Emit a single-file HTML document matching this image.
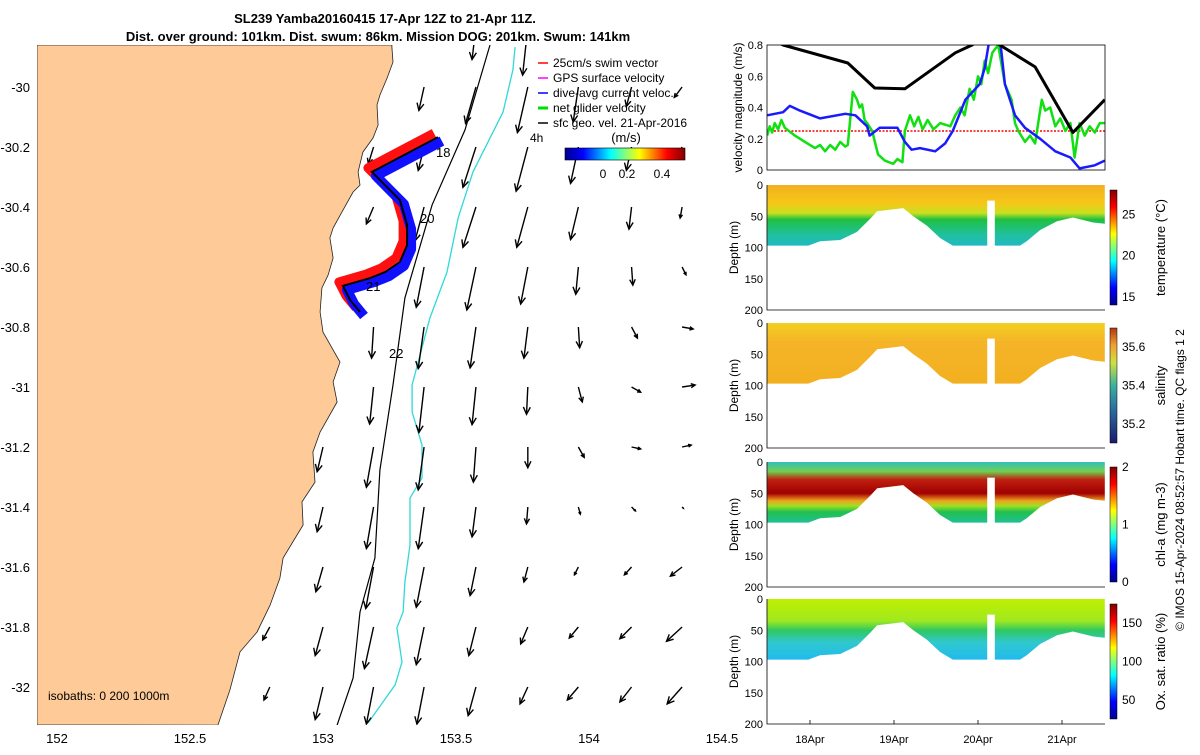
<!DOCTYPE html>
<html><head><meta charset="utf-8">
<style>
body{margin:0;background:#fff;font-family:"Liberation Sans",sans-serif;}
svg text{font-family:"Liberation Sans",sans-serif;}
</style></head>
<body>
<svg id="fig" width="1200" height="750" viewBox="0 0 1200 750">
<defs>
<linearGradient id="jetH" x1="0" x2="1" y1="0" y2="0">
<stop offset="0" stop-color="#00008f"/><stop offset="0.15" stop-color="#0000ff"/><stop offset="0.38" stop-color="#00ffff"/><stop offset="0.62" stop-color="#ffff00"/><stop offset="0.85" stop-color="#ff0000"/><stop offset="1" stop-color="#800000"/></linearGradient>
<linearGradient id="jetV" x1="0" x2="0" y1="1" y2="0">
<stop offset="0" stop-color="#00008f"/><stop offset="0.15" stop-color="#0000ff"/><stop offset="0.38" stop-color="#00ffff"/><stop offset="0.62" stop-color="#ffff00"/><stop offset="0.85" stop-color="#ff0000"/><stop offset="1" stop-color="#800000"/></linearGradient>
<linearGradient id="halV" x1="0" x2="0" y1="1" y2="0">
<stop offset="0" stop-color="#1a1a6e"/><stop offset="0.3" stop-color="#2c6fa0"/><stop offset="0.5" stop-color="#3cb0a0"/><stop offset="0.7" stop-color="#d0e040"/><stop offset="0.85" stop-color="#f0a030"/><stop offset="1" stop-color="#b03a10"/></linearGradient>
<clipPath id="mclip"><rect x="37" y="45" width="683" height="680"/></clipPath>
<clipPath id="vclip"><rect x="767" y="45" width="338" height="125"/></clipPath>
</defs>
<g id="map"></g>
<g id="right"></g>
</svg>
<script>
const NS="http://www.w3.org/2000/svg";
function mk(tag,attrs,parent,txt){const e=document.createElementNS(NS,tag);for(const k in attrs)e.setAttribute(k,attrs[k]);if(txt!==undefined)e.textContent=txt;parent.appendChild(e);return e;}
// ---------- MAP DATA ----------
const lonTicks=[152,152.5,153,153.5,154,154.5];
const latTicks=[-30,-30.2,-30.4,-30.6,-30.8,-31,-31.2,-31.4,-31.6,-31.8,-32];
const coastLon=[153.259,153.259,153.263,153.241,153.214,153.203,153.207,153.188,153.15,153.132,153.139,153.113,153.071,153.038,153.026,153.038,153.019,152.996,152.989,153.0,153.064,153.038,153.053,152.989,152.962,152.97,152.921,152.925,152.85,152.838,152.801,152.752,152.688,152.65,152.605];
const coastLat=[-29.86,-29.867,-29.917,-29.97,-30.027,-30.06,-30.127,-30.17,-30.217,-30.283,-30.327,-30.35,-30.417,-30.47,-30.503,-30.57,-30.627,-30.67,-30.75,-30.817,-30.917,-30.983,-31.05,-31.15,-31.217,-31.317,-31.383,-31.46,-31.57,-31.637,-31.727,-31.817,-31.883,-32.01,-32.127];
const trackLon=[153.432,153.184,153.233,153.289,153.316,153.316,153.289,153.233,153.177,153.075,153.102,153.139];
const trackLat=[-30.167,-30.283,-30.327,-30.377,-30.46,-30.527,-30.583,-30.617,-30.637,-30.663,-30.71,-30.75];
const iso200Lon=[153.628,153.534,153.41,153.308,153.263,153.214,153.195,153.139,153.113,153.053];
const iso200Lat=[-29.86,-30.143,-30.393,-30.703,-30.993,-31.277,-31.57,-31.75,-31.97,-32.127];
const iso1000Lon=[153.722,153.714,153.677,153.564,153.508,153.466,153.402,153.335,153.335,153.372,153.372,153.327,153.327,153.308,153.301,153.278,153.297,153.271,153.169];
const iso1000Lat=[-29.867,-29.943,-30.083,-30.283,-30.437,-30.617,-30.77,-30.993,-31.083,-31.193,-31.303,-31.37,-31.527,-31.65,-31.75,-31.803,-31.917,-31.993,-32.12];
const vecLon=[152.8,153.0,153.19,153.38,153.575,153.77,153.96,154.16,154.35];
const vecLat=[-29.8,-30,-30.2,-30.4,-30.6,-30.8,-31,-31.2,-31.4,-31.6,-31.8,-32];
const vecU=[
[0,0,0,0,-0.03,-0.04,0,0,0],
[0,0,0,-0.04,-0.08,-0.08,-0.04,-0.04,-0.06],
[0,0,-0.04,-0.045,-0.1,-0.09,-0.06,-0.04,-0.04],
[0,0,-0.055,-0.07,-0.1,-0.085,-0.06,-0.02,-0.015],
[0,0,0,-0.06,-0.07,-0.055,-0.02,0.01,0.03],
[0,0,-0.015,-0.045,-0.045,-0.03,0.01,0.045,0.085],
[0,0,-0.03,-0.04,-0.03,-0.01,0.03,0.07,0.1],
[0,-0.045,-0.055,-0.045,-0.02,0,0.045,0.07,0.07],
[0,-0.045,-0.055,-0.045,-0.03,-0.01,0.015,0.03,0.01],
[0,-0.055,-0.06,-0.06,-0.045,-0.03,-0.03,-0.055,-0.09],
[-0.055,-0.06,-0.07,-0.06,-0.055,-0.055,-0.07,-0.09,-0.12],
[-0.045,-0.06,-0.055,-0.055,-0.06,-0.06,-0.085,-0.09,-0.115]];
const vecV=[
[0,0,0,0,-0.25,-0.37,0,0,0],
[0,0,0,-0.18,-0.28,-0.35,-0.27,-0.15,-0.08],
[0,0,-0.13,-0.18,-0.31,-0.34,-0.28,-0.18,-0.08],
[0,0,-0.13,-0.26,-0.31,-0.31,-0.25,-0.17,-0.085],
[0,0,0,-0.31,-0.33,-0.285,-0.21,-0.14,-0.06],
[0,0,-0.24,-0.32,-0.315,-0.24,-0.16,-0.085,-0.015],
[0,0,-0.285,-0.35,-0.29,-0.21,-0.115,-0.04,0.015],
[0,-0.19,-0.31,-0.33,-0.27,-0.16,-0.08,-0.015,0.015],
[0,-0.19,-0.32,-0.32,-0.23,-0.13,-0.055,-0.03,-0.01],
[0,-0.19,-0.32,-0.31,-0.22,-0.115,-0.06,-0.06,-0.07],
[-0.1,-0.22,-0.32,-0.29,-0.22,-0.13,-0.085,-0.09,-0.11],
[-0.1,-0.25,-0.285,-0.285,-0.22,-0.13,-0.1,-0.115,-0.13]];
// ---------- RIGHT DATA ----------
const sfcDays=[17.5,17.68,18.45,18.77,19.13,19.73,19.93,20.08,20.26,20.68,21.13,21.51];
const sfcSpeed=[0.85,0.8,0.685,0.525,0.52,0.75,0.8,0.86,0.8,0.66,0.24,0.45];
const diveDays=[17.49,17.68,17.76,17.88,18.12,18.42,18.54,18.68,18.71,18.83,19.04,19.13,19.21,19.31,19.49,19.61,19.7,19.85,20.02,20.08,20.14,20.26,20.32,20.44,20.56,20.74,20.92,21.1,21.21,21.39,21.51];
const diveAvg=[0.35,0.37,0.41,0.38,0.33,0.36,0.35,0.28,0.22,0.27,0.27,0.18,0.13,0.14,0.12,0.17,0.25,0.45,0.55,0.65,0.85,0.85,0.55,0.35,0.27,0.2,0.12,0.08,0.01,0.03,0.06];
const netDays=[17.49,17.52,17.55,17.58,17.62,17.66,17.7,17.82,17.94,18.06,18.12,18.18,18.24,18.3,18.36,18.42,18.45,18.51,18.56,18.59,18.62,18.65,18.68,18.74,18.81,18.89,18.99,19.04,19.1,19.13,19.19,19.24,19.29,19.34,19.4,19.47,19.55,19.67,19.73,19.79,19.84,19.9,19.95,20.0,20.04,20.08,20.12,20.17,20.24,20.32,20.4,20.44,20.48,20.56,20.62,20.68,20.76,20.8,20.86,20.92,20.98,21.04,21.1,21.15,21.21,21.27,21.33,21.39,21.45,21.51];
const netGlider=[0.22,0.28,0.24,0.3,0.26,0.32,0.27,0.22,0.18,0.14,0.16,0.12,0.16,0.13,0.18,0.15,0.16,0.5,0.45,0.4,0.42,0.32,0.3,0.25,0.1,0.06,0.04,0.07,0.05,0.25,0.35,0.28,0.34,0.26,0.32,0.26,0.3,0.28,0.35,0.4,0.35,0.52,0.45,0.6,0.55,0.7,0.62,0.75,0.8,0.55,0.45,0.3,0.25,0.18,0.22,0.17,0.45,0.38,0.4,0.28,0.33,0.25,0.3,0.08,0.3,0.22,0.28,0.24,0.3,0.3];
const swimRef=0.25;
const profDays=[17.49,17.98,18.12,18.36,18.56,18.71,18.8,19.11,19.23,19.39,19.55,19.7,20.11,20.2,20.5,20.58,20.74,20.94,21.13,21.37,21.51];
const bottomDepth=[97,97,90,88,75,55,42,37,50,65,85,97,97,97,97,90,72,58,52,60,62];
const gapStart=20.11, gapEnd=20.2, gapTop=25;
const timeTicks=[18,19,20,21];
const timeLabels=["18Apr","19Apr","20Apr","21Apr"];
const velTicks=[0,0.2,0.4,0.6,0.8];
const velLabels=["0","0.2","0.4","0.6","0.8"];
const depthTicks=[0,50,100,150,200];
const panels=[
 {name:"temperature",top:185,stops:[[0,"#f3b020"],[0.3,"#f5c818"],[0.45,"#c8e020"],[0.55,"#20c040"],[0.8,"#20c0a0"],[1,"#20b8c8"]],cb:"url(#jetV)",cbLabel:"temperature (°C)",ticks:[15,20,25],min:14,max:28},
 {name:"salinity",top:323,stops:[[0,"#f2d020"],[0.3,"#f5b428"],[1,"#f2b020"]],cb:"url(#halV)",cbLabel:"salinity",ticks:[35.2,35.4,35.6],min:35.1,max:35.7},
 {name:"chl-a",top:462,stops:[[0,"#30c0c0"],[0.15,"#70d050"],[0.28,"#c02010"],[0.5,"#a00000"],[0.62,"#f0a020"],[0.7,"#a0e020"],[0.8,"#20c050"],[1,"#20c0a0"]],cb:"url(#jetV)",cbLabel:"chl-a (mg m-3)",ticks:[0,1,2],min:0,max:2},
 {name:"oxygen",top:599,stops:[[0,"#c0f000"],[0.35,"#a0e820"],[0.5,"#30c860"],[0.7,"#30c8d0"],[1,"#20b8f0"]],cb:"url(#jetV)",cbLabel:"Ox. sat. ratio (%)",ticks:[50,100,150],min:25,max:175}];

// ---------- MAP ----------
const map=document.getElementById('map');
const MX0=37,MX1=720,MY0=45,MY1=725;
const mx=lon=>323+(lon-153)*266;
const my=lat=>87+(-30-lat)*300;
const mc=mk('g',{'clip-path':'url(#mclip)'},map);
let land="M"+MX0+","+MY0;
coastLon.forEach((l,i)=>{land+=" L"+mx(l).toFixed(1)+","+my(coastLat[i]).toFixed(1);});
land+=" L"+MX0+","+MY1+" Z";
const landEl=mk('path',{d:land,fill:'#fdca98',stroke:'#222','stroke-width':0.8},mc);

function line(lons,lats,attrs,name){let d="";lons.forEach((l,i)=>{d+=(i?" L":"M")+mx(l).toFixed(1)+","+my(lats[i]).toFixed(1);});const e=mk('path',Object.assign({d:d,fill:'none'},attrs),mc);return e;}
line(iso200Lon,iso200Lat,{stroke:'#000','stroke-width':1.2},'isobath-200m');
line(iso1000Lon,iso1000Lat,{stroke:'#30d8d8','stroke-width':1.3},'isobath-1000m');
const vscale=130;
vecLat.forEach((la,r)=>{vecLon.forEach((lo,c)=>{
 const u=vecU[r][c],v=vecV[r][c];if(u===0&&v===0)return;
 const x0=mx(lo),y0=my(la),x1=x0+u*vscale,y1=y0-v*vscale;
 const g=mk('g',{stroke:'#000','stroke-width':1.4,fill:'none'},mc);
 
 
 mk('line',{x1:x0,y1:y0,x2:x1,y2:y1},g);
 const a=Math.atan2(y1-y0,x1-x0),L=Math.hypot(x1-x0,y1-y0),h=Math.min(8,L*0.35);
 mk('path',{d:`M${x1-h*Math.cos(a-0.45)},${y1-h*Math.sin(a-0.45)} L${x1},${y1} L${x1-h*Math.cos(a+0.45)},${y1-h*Math.sin(a+0.45)}`},g);
});});
line(trackLon,trackLat,{stroke:'#ff1010','stroke-width':9,'stroke-linejoin':'round',transform:'translate(-4,-4)'},'swim-vector-track');
line(trackLon,trackLat,{stroke:'#1010ff','stroke-width':10,'stroke-linejoin':'round',transform:'translate(4,4)'},'dive-avg-current-track');
line(trackLon,trackLat,{stroke:'#000','stroke-width':2},'glider-track');
[[436,157,"18"],[420,223,"20"],[366,291,"21"],[389,358,"22"]].forEach(t=>{const e=mk('text',{x:t[0],y:t[1],'font-size':13},map,t[2]);});
lonTicks.forEach(l=>{const e=mk('text',{x:mx(l),y:743,'font-size':13,'text-anchor':'middle'},map,String(l));});
latTicks.forEach(l=>{const e=mk('text',{x:30,y:my(l)+5,'font-size':13,'text-anchor':'end'},map,String(l));});
let t=mk('text',{x:385,y:23,'font-size':13,'font-weight':'bold','text-anchor':'middle'},map,"SL239 Yamba20160415 17-Apr 12Z to 21-Apr 11Z.");
t=mk('text',{x:378,y:41,'font-size':13,'font-weight':'bold','text-anchor':'middle'},map,"Dist. over ground: 101km. Dist. swum: 86km. Mission DOG: 201km. Swum: 141km");
const leg=[["#ff0000","25cm/s swim vector"],["#ff00ff","GPS surface velocity"],["#0000ff","dive-avg current veloc."],["#00e000","net glider velocity"],["#000","sfc geo. vel. 21-Apr-2016"]];
leg.forEach((L,i)=>{const g=mk('g',{},map);const y=63+i*15;mk('line',{x1:538,y1:y,x2:548,y2:y,stroke:L[0],'stroke-width':L[0]=="#00e000"?3:1.5},g);mk('text',{x:553,y:y+4,'font-size':12},g,L[1]);});
t=mk('text',{x:530,y:142,'font-size':12},map,"4h");
t=mk('text',{x:626,y:142,'font-size':13,'text-anchor':'middle'},map,"(m/s)");
const hcb=mk('rect',{x:565,y:148,width:120,height:12,fill:'url(#jetH)',stroke:'#000','stroke-width':0.6},map);
[["0",603],["0.2",627],["0.4",662]].forEach(p=>{const e=mk('text',{x:p[1],y:178,'font-size':12,'text-anchor':'middle'},map,p[0]);});
t=mk('text',{x:48,y:700,'font-size':12},map,"isobaths: 0   200  1000m");

// ---------- RIGHT PANELS ----------
const R=document.getElementById('right');
const TX0=767,TX1=1105;
const tx=d=>810+(d-18)*84;
const VY0=45,VY1=170;
const vy=v=>VY1-(v/0.8)*(VY1-VY0);
const vp=mk('g',{'clip-path':'url(#vclip)'},R);
function series(days,arr,attrs,name){let d="";arr.forEach((v,i)=>{d+=(i?" L":"M")+tx(days[i]).toFixed(1)+","+vy(v).toFixed(1);});const e=mk('path',Object.assign({d:d,fill:'none','stroke-linejoin':'round'},attrs),vp);}
const ref=mk('line',{x1:TX0,x2:TX1,y1:vy(swimRef),y2:vy(swimRef),stroke:'#ff0000','stroke-width':1.5,'stroke-dasharray':'2,1.5'},vp);
series(netDays,netGlider,{stroke:'#10e010','stroke-width':2.5},'net-glider-velocity-line');
series(diveDays,diveAvg,{stroke:'#1a1aff','stroke-width':2.5},'dive-avg-velocity-line');
series(sfcDays,sfcSpeed,{stroke:'#000','stroke-width':3},'surface-geostrophic-line');
mk('rect',{x:TX0,y:VY0,width:TX1-TX0,height:VY1-VY0,fill:'none',stroke:'#000','stroke-width':0.8},R);
velTicks.forEach((v,i)=>{const e=mk('text',{x:TX0-4,y:vy(v)+4,'font-size':11,'text-anchor':'end'},R,velLabels[i]);});
t=mk('text',{x:0,y:0,'font-size':12,'text-anchor':'middle',transform:`translate(742,${(VY0+VY1)/2}) rotate(-90)`},R,"velocity magnitude (m/s)");
const PH=125;
const defs=document.querySelector('defs');
panels.forEach(p=>{
 const g=mk('g',{},R);
 const dy=d=>p.top+d/200*PH;
 const gid='grad-'+p.name;
 const lg=mk('linearGradient',{id:gid,gradientUnits:'userSpaceOnUse',x1:0,x2:0,y1:dy(0),y2:dy(100)},defs);
 p.stops.forEach(s=>mk('stop',{offset:s[0],'stop-color':s[1]},lg));
 let d="M"+tx(profDays[0]).toFixed(1)+","+dy(0)+" L"+tx(profDays[profDays.length-1]).toFixed(1)+","+dy(0);
 for(let i=profDays.length-1;i>=0;i--)d+=" L"+tx(profDays[i]).toFixed(1)+","+dy(bottomDepth[i]).toFixed(1);
 d+=" Z";
 const f=mk('path',{d:d,fill:'url(#'+gid+')'},g);
 mk('rect',{x:tx(gapStart),y:dy(gapTop),width:tx(gapEnd)-tx(gapStart),height:dy(100)-dy(gapTop),fill:'#fff'},g);
 mk('path',{d:`M${TX0},${p.top} L${TX0},${p.top+PH} L${TX1},${p.top+PH}`,fill:'none',stroke:'#000','stroke-width':0.8},g);
 depthTicks.forEach(v=>{const e=mk('text',{x:TX0-4,y:dy(v)+4,'font-size':11,'text-anchor':'end'},g,String(v));});
 const yt=mk('text',{x:0,y:0,'font-size':12,'text-anchor':'middle',transform:`translate(738,${p.top+PH/2}) rotate(-90)`},g,"Depth (m)");
 const cb=mk('rect',{x:1110,y:p.top+5,width:7,height:PH-10,fill:p.cb,stroke:'#000','stroke-width':0.5},g);
 p.ticks.forEach(v=>{const yy=p.top+5+(PH-10)*(1-(v-p.min)/(p.max-p.min));const e=mk('text',{x:1122,y:yy+4,'font-size':12},g,String(v));});
 const cl=mk('text',{x:0,y:0,'font-size':13,'text-anchor':'middle',transform:`translate(1165,${p.top+PH/2}) rotate(-90)`},g,p.cbLabel);
});
timeTicks.forEach((d,i)=>{mk('line',{x1:tx(d),x2:tx(d),y1:724,y2:720,stroke:'#000','stroke-width':0.8},R);const e=mk('text',{x:tx(d),y:743,'font-size':11,'text-anchor':'middle'},R,timeLabels[i]);});
t=mk('text',{x:0,y:0,'font-size':12,'text-anchor':'middle',transform:'translate(1184,480) rotate(-90)'},R,"© IMOS 15-Apr-2024 08:52:57 Hobart time. QC flags 1  2");
</script>
</body></html>
